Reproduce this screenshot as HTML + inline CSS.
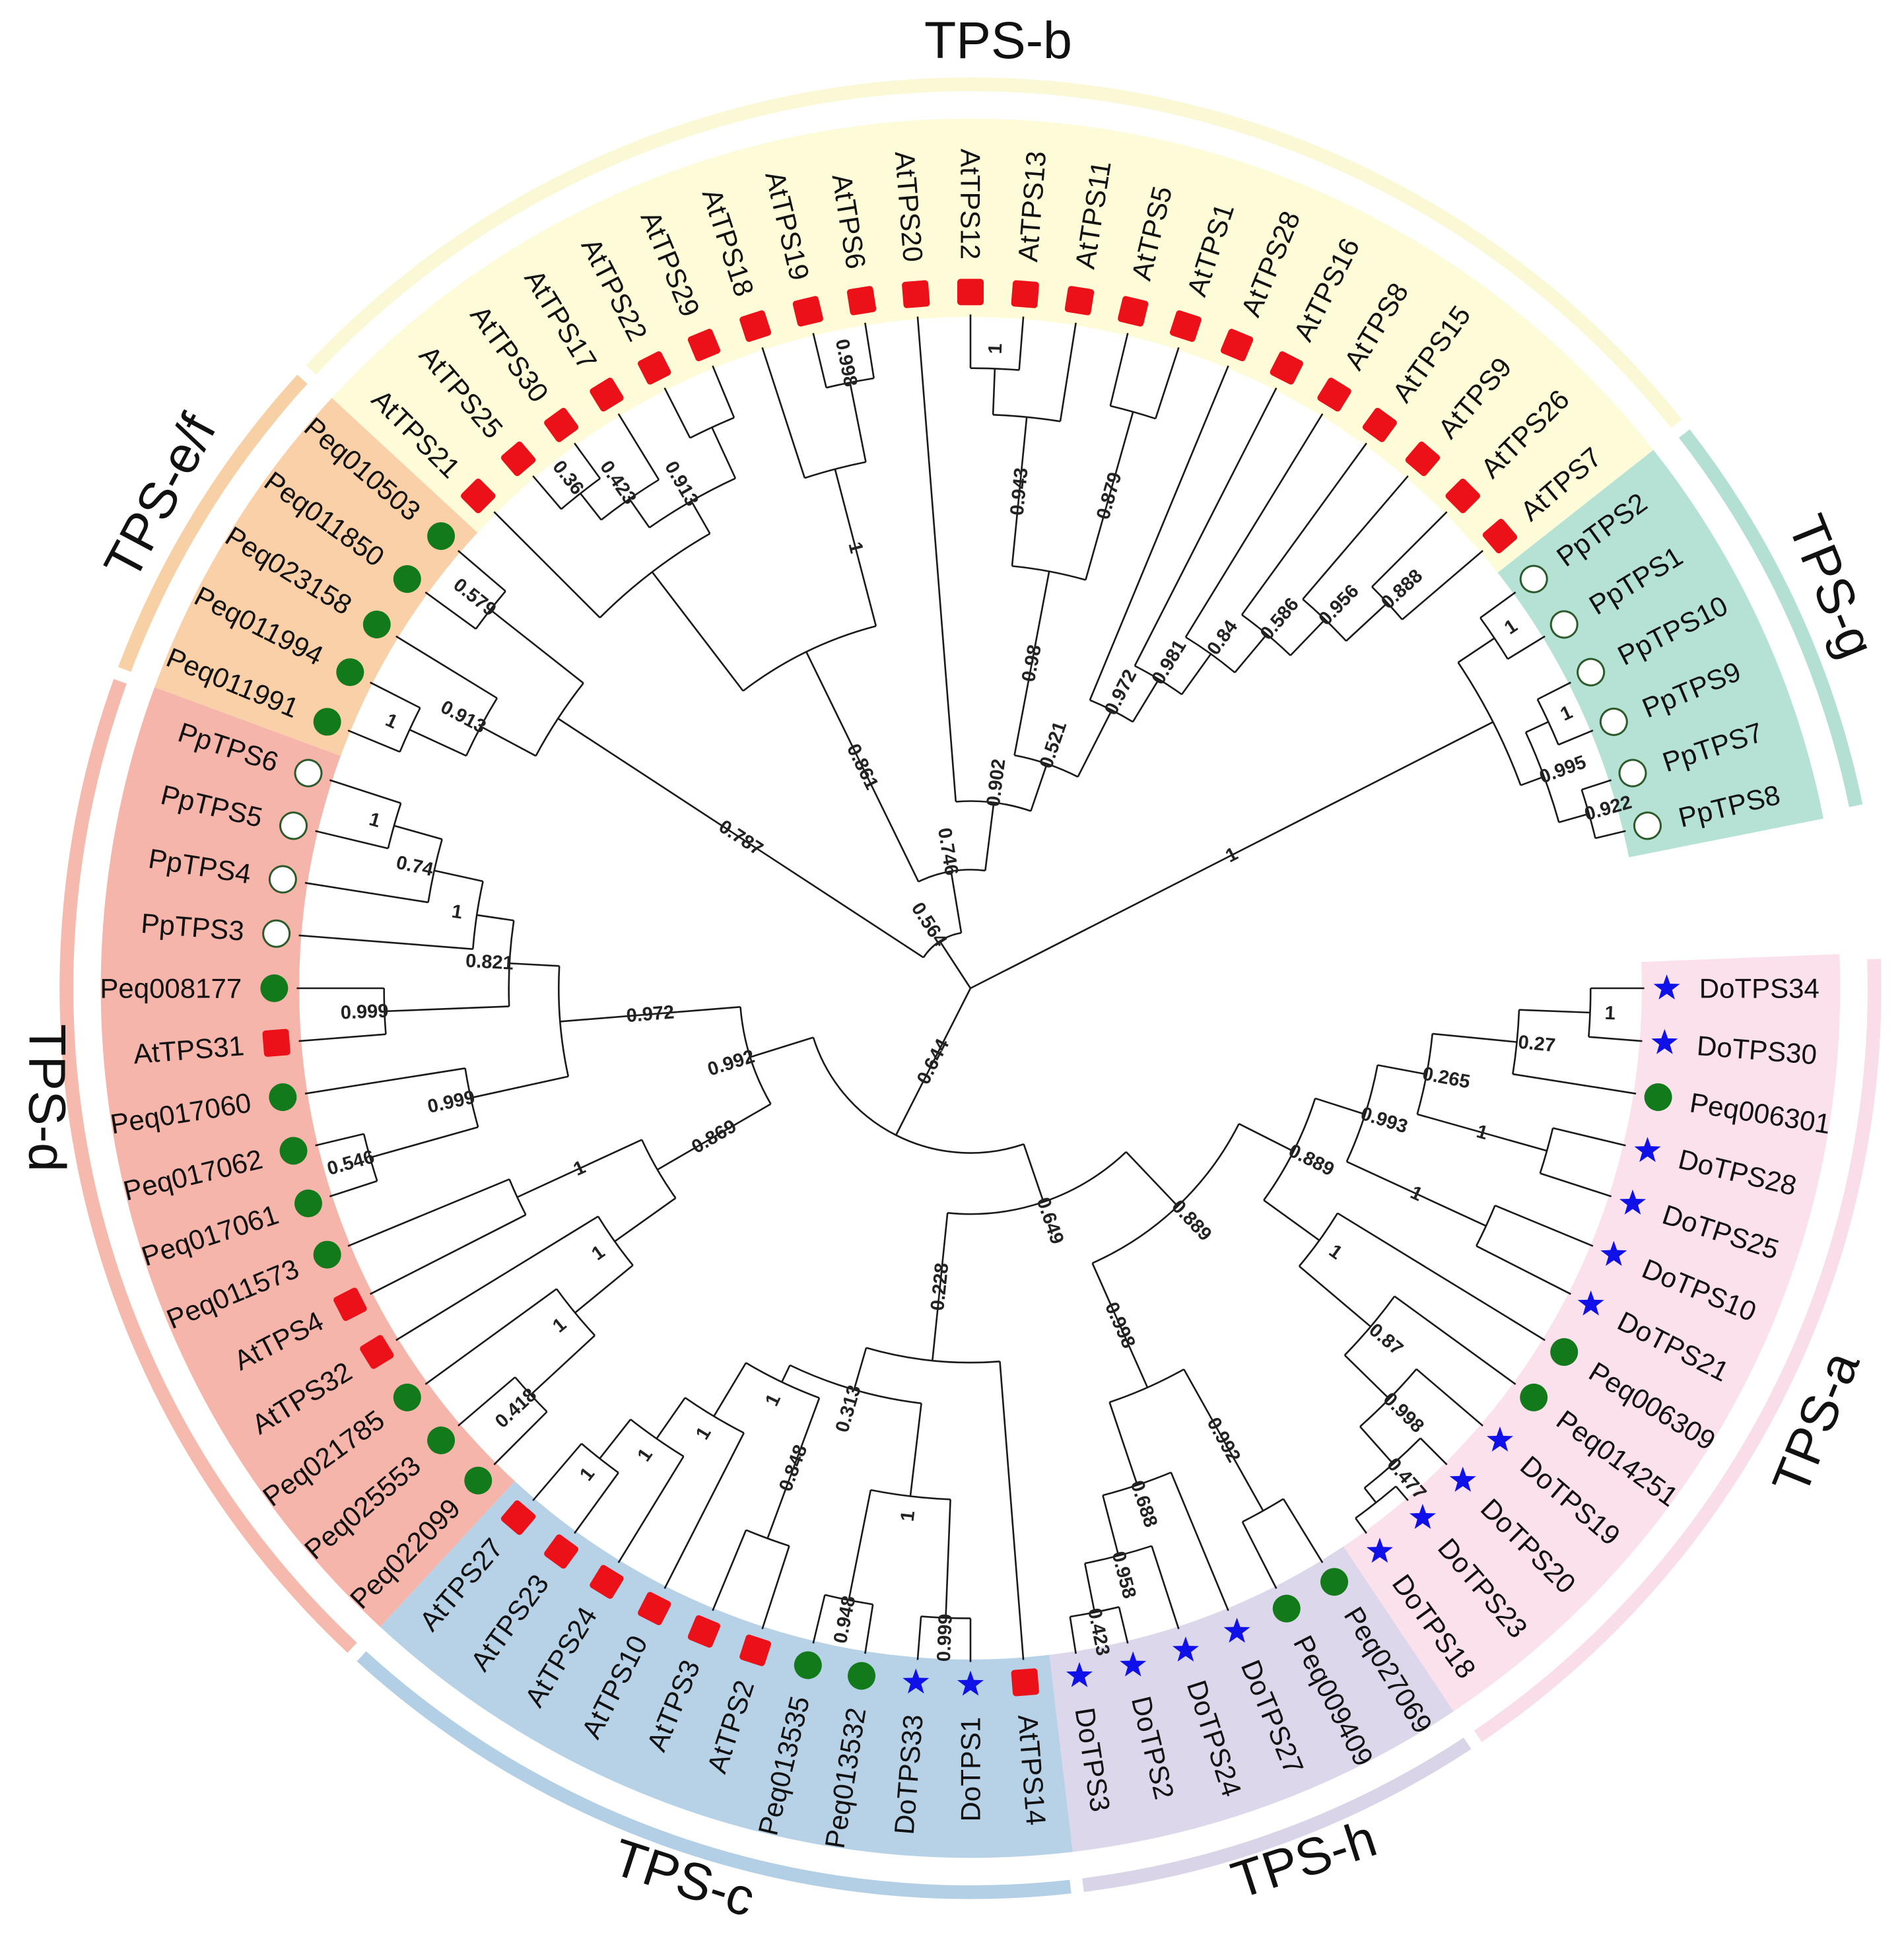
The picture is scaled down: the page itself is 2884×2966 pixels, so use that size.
<!DOCTYPE html>
<html><head><meta charset="utf-8"><style>
html,body{margin:0;padding:0;background:#fff}
svg{display:block}
text{font-family:"Liberation Sans",Arial,sans-serif}
</style></head><body>
<svg id="chart" width="2884" height="2966" viewBox="0 0 2884 2966" xmlns="http://www.w3.org/2000/svg">
<g id="sectors"></g>
<g id="rings"></g>
<g id="branches" fill="none" stroke="#1a1a1a" stroke-width="2.6"></g>
<g id="boots"></g>
<g id="leaves"></g>
<g font-size="79" fill="#111">
<text x="1512" y="88" text-anchor="middle">TPS-b</text>
<text x="2775" y="888" text-anchor="middle" dominant-baseline="central" transform="rotate(68 2775 888)">TPS-g</text>
<text x="2750" y="2155" text-anchor="middle" dominant-baseline="central" transform="rotate(-68 2750 2155)">TPS-a</text>
<text x="1975" y="2816" text-anchor="middle" dominant-baseline="central" transform="rotate(-18 1975 2816)">TPS-h</text>
<text x="1036" y="2844" text-anchor="middle" dominant-baseline="central" transform="rotate(18 1036 2844)">TPS-c</text>
<text x="72" y="1663" text-anchor="middle" dominant-baseline="central" transform="rotate(90 72 1663)">TPS-d</text>
<text x="242" y="752" text-anchor="middle" dominant-baseline="central" transform="rotate(-62 242 752)">TPS-e/f</text>
</g>
</svg>
<script>
// ---- data ----
const cladeNames = ['TPS-e/f','TPS-b','TPS-g','TPS-a','TPS-h','TPS-c','TPS-d'];
const cladeStart = [15,20,42,50,63,69,80];
const cladeEnd   = [19,41,47,62,68,79,94];
const cladeFill  = ['#f9d0a8','#fdfbd8','#b6e2d5','#fbe1ec','#dcd7ea','#b7d2e7','#f6b5aa'];
const cladeRing  = ['#f8d0a6','#fbf8d6','#b4dfd3','#f9dde9','#d9d4e8','#b3cfe6','#f5b9ad'];
const startSlot = 15;
const gapAfter = 'PpTPS8';
const gapSlots = 2;

const N=(b,r,c)=>({b:b,r:r,c:c});
const tree = N('',0,[
  N('0.564',45,[
    N('0.787',395,[
      N('0.913',445,[N('1',495,['Peq011991','Peq011994']),'Peq023158']),
      N('0.579',490,['Peq011850','Peq010503'])
    ]),
    N('0.746',95,[
      N('0.861',300,[
        N('',420,['AtTPS21',
          N('0.913',450,[N('0.423',478,[N('0.36',505,['AtTPS25','AtTPS30']),'AtTPS17']),N('',495,['AtTPS22','AtTPS29'])])
        ]),
        N('1',430,['AtTPS18',N('0.998',495,['AtTPS19','AtTPS6'])])
      ]),
      N('0.902',150,['AtTPS20',
        N('0.521',190,[
          N('0.98',340,[N('0.943',460,[N('1',497,['AtTPS12','AtTPS13']),'AtTPS11']),N('0.879',480,['AtTPS5','AtTPS1'])]),
          N('0.972',250,['AtTPS28',N('0.981',290,['AtTPS16',N('0.84',330,['AtTPS8',N('0.586',370,['AtTPS15',N('0.956',410,['AtTPS9',N('0.888',455,['AtTPS26','AtTPS7'])])])])])])
        ])
      ])
    ])
  ]),
  N('1',470,[
    N('1',505,['PpTPS2','PpTPS1']),
    N('0.995',490,[N('1',510,['PpTPS10','PpTPS9']),N('0.922',515,['PpTPS7','PpTPS8'])])
  ]),
  N('0.644',132,[
    N('0.649',181,[
      N('0.889',241,[
        N('0.889',290,[
          N('0.993',332,[
            N('0.265',372,[
              N('0.27',440,[N('1',497,['DoTPS34','DoTPS30']),'Peq006301']),
              N('1',480,['DoTPS28','DoTPS25'])
            ]),
            N('1',455,['DoTPS10','DoTPS21'])
          ]),
          N('1',345,['Peq006309',N('0.87',420,['Peq014251',N('0.998',470,['DoTPS19',N('0.477',510,['DoTPS20',N('',525,['DoTPS23','DoTPS18'])])])])])
        ]),
        N('0.998',350,[
          N('0.992',480,['Peq027069','Peq009409']),
          N('0.688',420,['DoTPS27',N('0.958',470,['DoTPS24',N('0.423',510,['DoTPS2','DoTPS3'])])])
        ])
      ]),
      N('0.228',300,['AtTPS14',
        N('0.313',335,[
          N('1',410,[N('0.999',505,['DoTPS1','DoTPS33']),N('0.948',500,['Peq013532','Peq013535'])]),
          N('1',350,[N('0.848',470,['AtTPS2','AtTPS3']),N('1',400,['AtTPS10',N('1',440,['AtTPS24',N('1',480,['AtTPS23','AtTPS27'])])])])
        ])
      ])
    ]),
    N('0.992',185,[
      N('0.869',290,[
        N('1',350,[N('1',410,[N('0.418',480,['Peq022099','Peq025553']),'Peq021785']),'AtTPS32']),
        N('1',400,['AtTPS4','Peq011573'])
      ]),
      N('0.972',330,[
        N('0.999',410,[N('0.546',500,['Peq017061','Peq017062']),'Peq017060']),
        N('0.821',370,[N('0.999',470,['AtTPS31','Peq008177']),N('1',400,['PpTPS3',N('0.74',440,['PpTPS4',N('1',480,['PpTPS5','PpTPS6'])])])])
      ])
    ])
  ])
]);

// ---- geometry ----
const S=1.89, CX=1470, CY=1497, TIP=540, MARK=558, LAB=584;
const NS='http://www.w3.org/2000/svg';
function ang(slot){return 135+4.5*slot;}
function P(r,a){const t=a*Math.PI/180;return [CX+r*S*Math.cos(t),CY+r*S*Math.sin(t)];}
function mk(tag,attrs,parent){const e=document.createElementNS(NS,tag);for(const k in attrs)e.setAttribute(k,attrs[k]);parent.appendChild(e);return e;}
function arcD(r,a1,a2){const p=P(r,a1),q=P(r,a2);const R=r*S;return 'M'+p[0].toFixed(1)+' '+p[1].toFixed(1)+' A'+R.toFixed(1)+' '+R.toFixed(1)+' 0 '+((a2-a1)>180?1:0)+' 1 '+q[0].toFixed(1)+' '+q[1].toFixed(1);}
function sectorD(r1,r2,a1,a2){const a=P(r2,a1),b=P(r2,a2),c=P(r1,a2),d=P(r1,a1);const L=(a2-a1)>180?1:0;
 return 'M'+a[0]+' '+a[1]+' A'+r2*S+' '+r2*S+' 0 '+L+' 1 '+b[0]+' '+b[1]+' L'+c[0]+' '+c[1]+' A'+r1*S+' '+r1*S+' 0 '+L+' 0 '+d[0]+' '+d[1]+'Z';}

let counter=startSlot;
function layout(n){
  if(typeof n==='string'){const o={name:n,slot:counter,a:ang(counter),r:TIP,leaf:true};counter++;if(n===gapAfter)counter+=gapSlots;return o;}
  const kids=n.c.map(layout);
  return {b:n.b,r:n.r,kids:kids,a:(kids[0].a+kids[kids.length-1].a)/2};
}
const root=layout(tree);

const gS=document.getElementById('sectors'),gR=document.getElementById('rings'),gB=document.getElementById('branches'),gT=document.getElementById('boots'),gL=document.getElementById('leaves');

for(let i=0;i<cladeNames.length;i++){
  const a1=ang(cladeStart[i])-2.25,a2=ang(cladeEnd[i])+2.25;
  const s=mk('path',{d:sectorD(538,697,a1,a2),fill:cladeFill[i]},gS);
  
  
  const rg=mk('path',{d:sectorD(719,730,a1+0.4,a2-0.4),fill:cladeRing[i]},gR);
  
  
}

function readable(a){let m=((a%360)+360)%360;return (m>=90&&m<=270);}

function drawNode(n,parentR){
  const p=P(parentR,n.a),q=P(n.r,n.a);
  const br=mk('line',{x1:p[0],y1:p[1],x2:q[0],y2:q[1]},gB);
  
  
  if(n.leaf){drawLeaf(n);return;}
  const arc=mk('path',{d:arcD(n.r,n.kids[0].a,n.kids[n.kids.length-1].a)},gB);
  
  
  if(n.b){
    const len=n.r-parentR;
    const lr=len>100?(parentR+n.r)/2:n.r+16;
    const c=P(lr,n.a);
    const rot=readable(n.a)?n.a+180:n.a;
    const t=mk('text',{x:c[0],y:c[1],'text-anchor':'middle','dominant-baseline':'central','font-size':29,'font-weight':'bold',fill:'#222',transform:'rotate('+rot+' '+c[0]+' '+c[1]+')'},gT);
    t.textContent=n.b;
    
    
  }
  n.kids.forEach(k=>drawNode(k,n.r));
}

function drawLeaf(n){
  const m=P(MARK,n.a);
  const g=mk('g',{transform:'translate('+m[0]+' '+m[1]+') rotate('+n.a+')'},gL);
  
  
  let sh;
  if(n.name.startsWith('At')){sh=mk('rect',{x:-20,y:-20,width:40,height:40,rx:5,fill:'#ec1118'},g);}
  else if(n.name.startsWith('Peq')){sh=mk('circle',{cx:0,cy:0,r:21,fill:'#127a1a'},g);}
  else if(n.name.startsWith('Pp')){sh=mk('circle',{cx:0,cy:0,r:20,fill:'#ffffff',stroke:'#2d5a2a','stroke-width':3},g);}
  else {let pts=[];for(let k=0;k<10;k++){const rr=k%2?8.5:21;const t=(k*36-90)*Math.PI/180;pts.push((rr*Math.cos(t)).toFixed(1)+','+(rr*Math.sin(t)).toFixed(1));}
    sh=mk('polygon',{points:pts.join(' '),fill:'#1010e8',transform:'rotate('+(-n.a)+')'},g);}
  
  
  const flip=readable(n.a);
  const c=P(LAB,n.a);
  const t=mk('text',{x:c[0],y:c[1],'text-anchor':flip?'end':'start','dominant-baseline':'central','font-size':42,fill:'#111',transform:'rotate('+(flip?n.a+180:n.a)+' '+c[0]+' '+c[1]+')'},gL);
  t.textContent=n.name;
  
  
}

root.kids.forEach(k=>drawNode(k,0));
</script>
</body></html>
